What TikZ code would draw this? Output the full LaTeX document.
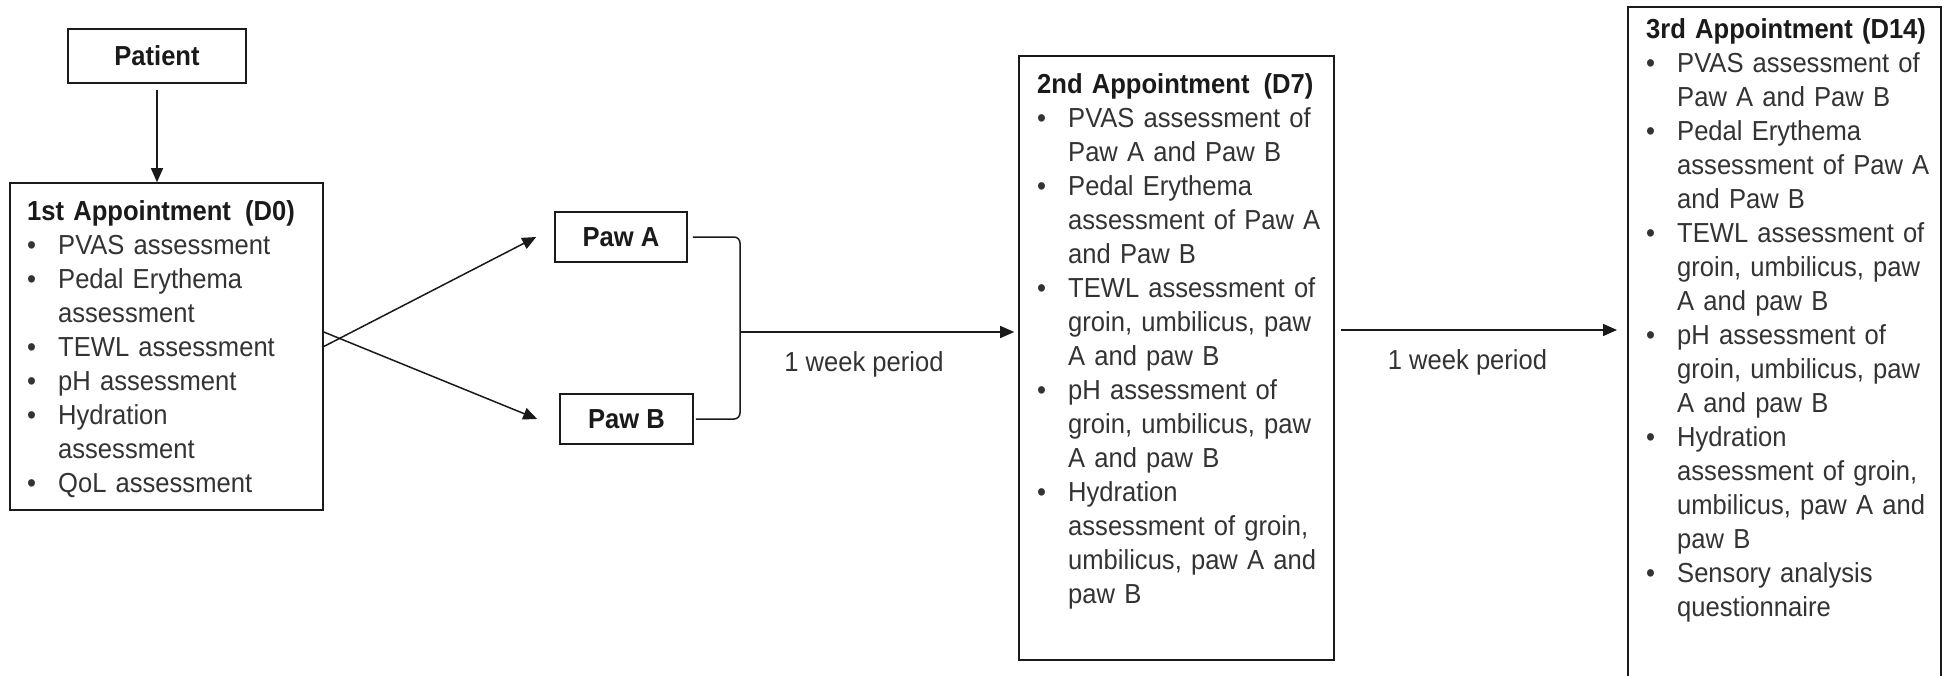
\documentclass[tikz,border=0pt]{standalone}
\usepackage{fontspec}
\setmainfont{Liberation Sans}[FakeStretch=0.93]
\usetikzlibrary{arrows.meta}
\definecolor{ink}{HTML}{1A1A1A}
\definecolor{bodyc}{HTML}{333333}
\newlength\bulw \setlength\bulw{31pt}
\newcommand\ttl[1]{\noindent{\bfseries\color{ink}#1}\par}
\newcommand\bul[1]{\noindent\makebox[\bulw][l]{\textbullet}#1\par}
\newcommand\cnt[1]{\noindent\hspace*{\bulw}#1\par}
\begin{document}
\begin{tikzpicture}[x=1pt,y=-1pt,
  box/.style={draw=ink, line width=1.6pt, inner sep=0pt, fill=white},
  lbl/.style={font=\fontsize{27.5}{34}\selectfont\bfseries, text=ink},
  txt/.style={inner sep=0pt, text width=300pt, anchor=base west, align=left,
    font=\fontsize{27.5}{34}\selectfont, text=bodyc},
  wk/.style={inner sep=0pt, anchor=base, font=\fontsize{27.5}{34}\selectfont, text=bodyc},
  conn/.style={draw=ink, line width=1.5pt},
  arr/.style={conn, -{Triangle[length=14pt,width=12pt]}}]
\fill[white] (0,0) rectangle (1943,675);
\clip (0,0) rectangle (1943,675);

% boxes
\node[box, lbl, minimum width=178pt, minimum height=54pt] (pat) at (157,56) {Patient};
\node[box, minimum width=313pt, minimum height=327pt] (b1) at (166.5,346.5) {};
\node[box, lbl, minimum width=132pt, minimum height=50pt] (pa) at (621,237) {Paw A};
\node[box, lbl, minimum width=133pt, minimum height=50pt] (pb) at (626.5,419) {Paw B};
\node[box, minimum width=315pt, minimum height=604pt] (b2) at (1176.5,358) {};
\node[box, minimum width=313pt, minimum height=690pt, anchor=north west] (b3) at (1627,6) {};

% texts
\node[txt] (t1) at (27,220) {%
\ttl{1st Appointment\hspace{5pt} (D0)}
\bul{PVAS assessment}
\bul{Pedal Erythema}
\cnt{assessment}
\bul{TEWL assessment}
\bul{pH assessment}
\bul{Hydration}
\cnt{assessment}
\bul{QoL assessment}};

\node[txt] (t2) at (1037,93) {%
\ttl{2nd Appointment\hspace{5pt} (D7)}
\bul{PVAS assessment of}
\cnt{Paw A and Paw B}
\bul{Pedal Erythema}
\cnt{assessment of Paw A}
\cnt{and Paw B}
\bul{TEWL assessment of}
\cnt{groin, umbilicus, paw}
\cnt{A and paw B}
\bul{pH assessment of}
\cnt{groin, umbilicus, paw}
\cnt{A and paw B}
\bul{Hydration}
\cnt{assessment of groin,}
\cnt{umbilicus, paw A and}
\cnt{paw B}};

\node[txt] (t3) at (1646,38) {%
\ttl{3rd Appointment (D14)}
\bul{PVAS assessment of}
\cnt{Paw A and Paw B}
\bul{Pedal Erythema}
\cnt{assessment of Paw A}
\cnt{and Paw B}
\bul{TEWL assessment of}
\cnt{groin, umbilicus, paw}
\cnt{A and paw B}
\bul{pH assessment of}
\cnt{groin, umbilicus, paw}
\cnt{A and paw B}
\bul{Hydration}
\cnt{assessment of groin,}
\cnt{umbilicus, paw A and}
\cnt{paw B}
\bul{Sensory analysis}
\cnt{questionnaire}};

\node[wk] (w1) at (864,371) {1 week period};
\node[wk] (w2) at (1467.5,369) {1 week period};

% connectors
\draw[arr, shorten <=6pt] (pat.south) -- (pat.south |- b1.north);
\draw[arr] (b1.east) -- ([xshift=-18pt]pa.west);
\draw[arr] ([yshift=14.5pt]b1.east) -- ([xshift=-22pt]pb.west);
\coordinate (j) at (740,332);
\draw[conn, rounded corners=6pt] ([xshift=5pt]pa.east) -| (j) |- ([xshift=2pt]pb.east);
\draw[arr, shorten >=4pt] (j) -- (j -| b2.west);
\coordinate (a2) at (1334,330);
\draw[arr, shorten <=7pt, shorten >=10pt] (a2) -- (a2 -| b3.west);
\end{tikzpicture}
\end{document}
